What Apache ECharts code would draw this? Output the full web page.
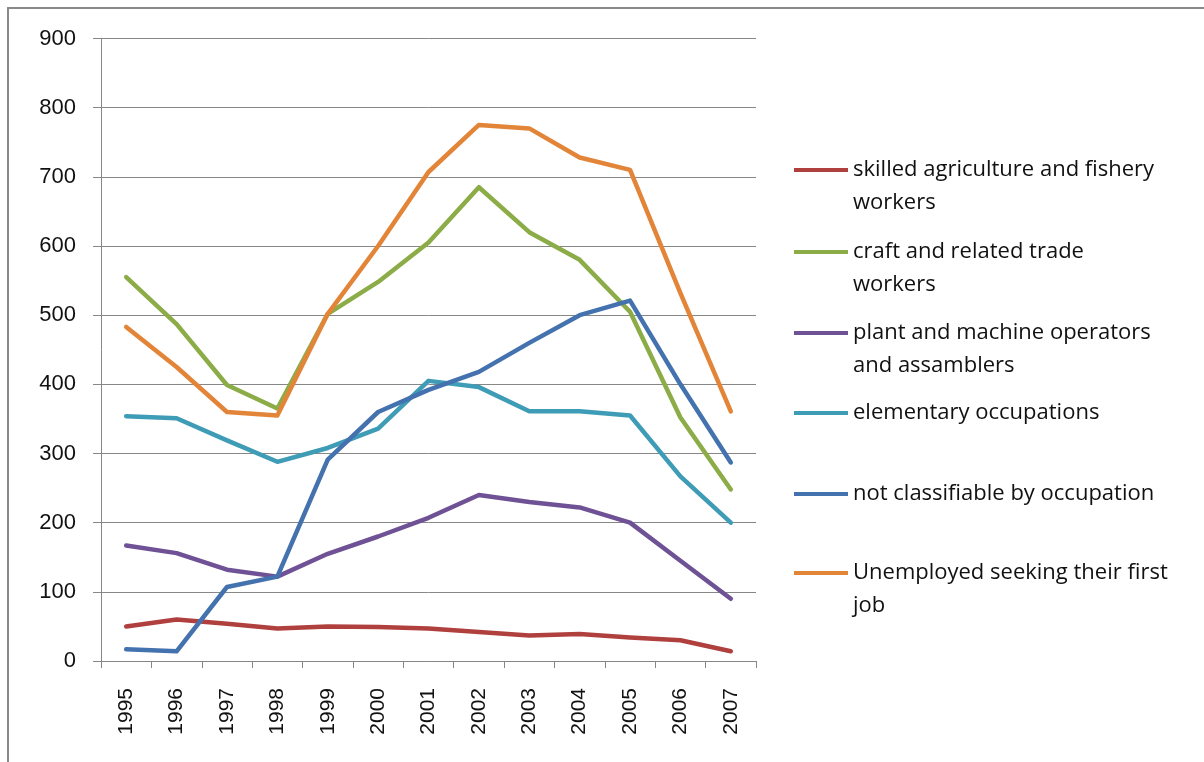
<!DOCTYPE html>
<html>
<head>
<meta charset="utf-8">
<script src="https://cdn.jsdelivr.net/npm/echarts@6/dist/echarts.min.js"></script>
<style>
  html, body { margin: 0; padding: 0; background: #fff; }
  #chart { width: 1204px; height: 762px; }
</style>
</head>
<body>
<div id="chart"></div>
<script>
// Years on the category axis
const years = ['1995','1996','1997','1998','1999','2000','2001','2002','2003','2004','2005','2006','2007'];
// Y axis ticks
const yTicks = [0, 100, 200, 300, 400, 500, 600, 700, 800, 900];

// Series names (line breaks as shown in the legend)
const nameAgri = 'skilled agriculture and fishery\nworkers';
const nameCraft = 'craft and related trade\nworkers';
const namePlant = 'plant and machine operators\nand assamblers';
const nameElem = 'elementary occupations';
const nameNotClass = 'not classifiable by occupation';
const nameFirstJob = 'Unemployed seeking their first\njob';

// Values per year
const agri      = [50, 60, 54, 47, 50, 49, 47, 42, 37, 39, 34, 30, 14];
const craft     = [555, 487, 399, 365, 502, 548, 605, 685, 620, 580, 505, 352, 248];
const plant     = [167, 156, 132, 122, 155, 180, 207, 240, 230, 222, 200, 145, 90];
const elem      = [354, 351, 319, 288, 308, 336, 405, 396, 361, 361, 355, 267, 200];
const notClass  = [17, 14, 107, 122, 291, 360, 392, 418, 460, 500, 521, 400, 287];
const firstJob  = [483, 425, 360, 355, 502, 600, 707, 775, 770, 728, 710, 532, 361];

const seriesDefs = [
  { name: nameAgri,      data: agri,     color: '#B0403D' },
  { name: nameCraft,     data: craft,    color: '#8CAC48' },
  { name: namePlant,     data: plant,    color: '#6F5295' },
  { name: nameElem,      data: elem,     color: '#3F9CB6' },
  { name: nameNotClass,  data: notClass, color: '#4472AE' },
  { name: nameFirstJob,  data: firstJob, color: '#E38538' }
];

const gridColor = '#878787';
const legendFont = 'Open Sans';
const axisFont = 'Liberation Sans';
const legendLineHeight = 33;
const legendIconY = [170, 252, 333, 413, 494, 573];

// Two-line entries get a blank first line so the swatch sits level with the first text line
function legendText(name) {
  return name.indexOf('\n') >= 0 ? '\n' + name : name;
}

const legends = seriesDefs.map((s, i) => {
  const lines = legendText(s.name).split('\n').length;
  return {
    orient: 'vertical',
    left: 794,
    top: legendIconY[i] - legendLineHeight * lines / 2,
    padding: 0,
    icon: 'rect',
    itemWidth: 54,
    itemHeight: 4,
    selectedMode: false,
    data: [s.name],
    formatter: legendText,
    textStyle: {
      fontFamily: legendFont,
      fontSize: 22,
      color: '#111',
      lineHeight: legendLineHeight
    }
  };
});

const chart = echarts.init(document.getElementById('chart'), null, { renderer: 'canvas' });

chart.setOption({
  animation: false,
  backgroundColor: '#fff',
  graphic: [{
    type: 'rect',
    shape: { x: 8, y: 8, width: 1400, height: 900 },
    style: { fill: 'none', stroke: '#8a8a8a', lineWidth: 2 },
    silent: true
  }],
  grid: { left: 101, right: 448, top: 38.5, bottom: 101, containLabel: false },
  legend: legends,
  xAxis: {
    type: 'category',
    data: years,
    boundaryGap: true,
    axisLine: { show: true, lineStyle: { color: gridColor, width: 1 } },
    axisTick: { show: true, length: 7, lineStyle: { color: gridColor } },
    axisLabel: {
      rotate: 90,
      margin: 27,
      fontFamily: axisFont,
      fontSize: 21,
      color: '#111'
    },
    splitLine: { show: false }
  },
  yAxis: {
    type: 'value',
    min: yTicks[0],
    max: yTicks[yTicks.length - 1],
    interval: yTicks[1] - yTicks[0],
    axisLine: { show: true, lineStyle: { color: gridColor, width: 1 } },
    axisTick: { show: true, length: 8, lineStyle: { color: gridColor } },
    axisLabel: {
      margin: 25,
      fontFamily: axisFont,
      fontSize: 22,
      color: '#111'
    },
    splitLine: { show: true, lineStyle: { color: gridColor, width: 1 } }
  },
  series: seriesDefs.map(s => ({
    type: 'line',
    name: s.name,
    data: s.data,
    showSymbol: false,
    symbol: 'none',
    smooth: false,
    color: s.color,
    lineStyle: { width: 4.5, color: s.color, cap: 'round', join: 'round' },
    itemStyle: { color: s.color },
    emphasis: { disabled: true }
  }))
});
</script>
</body>
</html>
